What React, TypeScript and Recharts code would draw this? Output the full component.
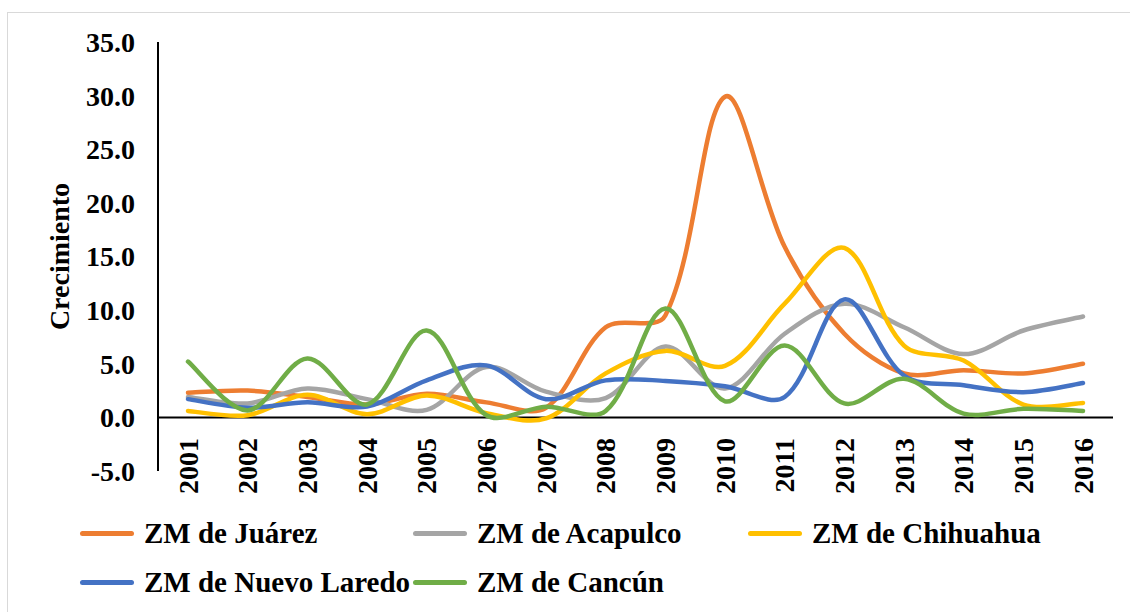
import { LineChart, Line, XAxis, YAxis, ReferenceLine, Legend } from 'recharts';

const years = ['2001', '2002', '2003', '2004', '2005', '2006', '2007', '2008',
  '2009', '2010', '2011', '2012', '2013', '2014', '2015', '2016'];

const juarez = [2.3, 2.5, 1.9, 1.2, 2.2, 1.4, 0.9, 8.4, 9.5, 29.9, 15.9, 7.8, 4.1, 4.4, 4.1, 5.0];
const acapulco = [1.9, 1.3, 2.7, 1.7, 0.7, 4.7, 2.4, 1.8, 6.6, 2.7, 7.8, 10.6, 8.4, 5.9, 8.1, 9.4];
const chihuahua = [0.6, 0.2, 2.1, 0.3, 2.05, 0.4, -0.1, 4.1, 6.2, 4.8, 10.6, 15.8, 6.7, 5.3, 1.2, 1.35];
const nuevoLaredo = [1.7, 0.9, 1.4, 1.0, 3.45, 4.85, 1.7, 3.45, 3.4, 2.9, 1.9, 11.0, 3.9, 3.0, 2.35, 3.2];
const cancun = [5.2, 0.65, 5.5, 1.2, 8.1, 0.2, 1.0, 0.6, 10.15, 1.5, 6.7, 1.3, 3.6, 0.35, 0.8, 0.6];

const yTicks = [-5, 0, 5, 10, 15, 20, 25, 30, 35];

const series = [
  { key: 'juarez', name: 'ZM de Juárez', color: '#ED7D31' },
  { key: 'acapulco', name: 'ZM de Acapulco', color: '#A5A5A5' },
  { key: 'chihuahua', name: 'ZM de Chihuahua', color: '#FFC000' },
  { key: 'nuevoLaredo', name: 'ZM de Nuevo Laredo', color: '#4472C4' },
  { key: 'cancun', name: 'ZM de Cancún', color: '#70AD47' },
];

const data = years.map((year, i) => ({
  year,
  juarez: juarez[i],
  acapulco: acapulco[i],
  chihuahua: chihuahua[i],
  nuevoLaredo: nuevoLaredo[i],
  cancun: cancun[i],
}));

const FONT = "'Liberation Serif', 'DejaVu Serif', serif";

// smoothing similar to the spreadsheet "smoothed line" (handles scaled by segment length)
const smoothCurve = (context: any) => {
  let pts: number[][] = [];
  return {
    areaStart() {},
    areaEnd() {},
    lineStart() { pts = []; },
    point(x: number, y: number) { pts.push([+x, +y]); },
    lineEnd() {
      if (!pts.length) return;
      context.moveTo(pts[0][0], pts[0][1]);
      const dist = (a: number[], b: number[]) => Math.hypot(b[0] - a[0], b[1] - a[1]);
      for (let i = 0; i < pts.length - 1; i++) {
        const p0 = pts[i - 1] || pts[i];
        const p1 = pts[i];
        const p2 = pts[i + 1];
        const p3 = pts[i + 2] || p2;
        const d01 = dist(p0, p1), d12 = dist(p1, p2), d23 = dist(p2, p3);
        const f1 = d01 + d12 > 0 ? (d12 / (d01 + d12)) / 3 : 0;
        const f2 = d12 + d23 > 0 ? (d12 / (d12 + d23)) / 3 : 0;
        const a1 = i === 0 ? 1 / 6 : f1;
        const a2 = i + 2 >= pts.length ? 1 / 6 : f2;
        context.bezierCurveTo(
          p1[0] + (p2[0] - p0[0]) * a1, p1[1] + (p2[1] - p0[1]) * a1,
          p2[0] - (p3[0] - p1[0]) * a2, p2[1] - (p3[1] - p1[1]) * a2,
          p2[0], p2[1]
        );
      }
    },
  };
};

const YearTick = ({ x, y, payload }: any) => (
  <text
    x={0}
    y={0}
    transform={`translate(${x},${y - 33}) rotate(-90)`}
    textAnchor="end"
    dy="0.34em"
    fontFamily={FONT}
    fontWeight="bold"
    fontSize={28}
    fill="#000"
  >
    {payload.value}
  </text>
);

const YTitle = ({ viewBox }: any) => {
  const x = viewBox ? viewBox.x : 58;
  const cy = viewBox ? viewBox.y + viewBox.height / 2 : 257;
  return (
    <text
      x={0}
      y={0}
      transform={`translate(${x + 1},${cy}) rotate(-90)`}
      textAnchor="middle"
      dy="0.34em"
      fontFamily={FONT}
      fontWeight="bold"
      fontSize={28}
      fill="#000"
    >
      Crecimiento
    </text>
  );
};

const legendCols = [80, 413, 748];
const legendRows = [21, 70];

const LegendContent = () => (
  <div style={{ position: 'relative', width: 1130, height: 95 }}>
    {series.map((s, i) => (
      <div
        key={s.key}
        style={{
          position: 'absolute',
          left: legendCols[i % 3],
          top: legendRows[Math.floor(i / 3)] - 20,
          height: 40,
          display: 'flex',
          alignItems: 'center',
          whiteSpace: 'nowrap',
        }}
      >
        <div style={{ width: 54, height: 5, borderRadius: 3, background: s.color }} />
        <span
          style={{
            marginLeft: 10,
            fontFamily: FONT,
            fontWeight: 'bold',
            fontSize: 29,
            color: '#000',
            lineHeight: '40px',
          }}
        >
          {s.name}
        </span>
      </div>
    ))}
  </div>
);

export default function App() {
  return (
    <div style={{ position: 'absolute', left: 0, top: 0, width: 1130, height: 612, background: '#fff' }}>
      <div
        style={{
          position: 'absolute',
          left: 7,
          top: 12,
          right: 0,
          bottom: 0,
          borderTop: '1.5px solid #d9d9d9',
          borderLeft: '1.5px solid #d9d9d9',
        }}
      />
      <LineChart
        width={1130}
        height={612}
        data={data}
        margin={{ top: 42, right: 17, left: 58, bottom: 111 }}
      >
        <XAxis
          dataKey="year"
          height={30}
          padding={{ left: 30, right: 30 }}
          axisLine={false}
          tickLine={false}
          tickSize={0}
          tickMargin={0}
          interval={0}
          tick={<YearTick />}
        />
        <YAxis
          width={100}
          domain={[-5, 35]}
          ticks={yTicks}
          allowDataOverflow
          tickFormatter={(v: number) => v.toFixed(1)}
          axisLine={{ stroke: '#000', strokeWidth: 2 }}
          tickLine={false}
          tickSize={0}
          tickMargin={23}
          tick={{ fontFamily: FONT, fontWeight: 'bold', fontSize: 28, fill: '#000' }}
          label={<YTitle />}
        />
        <ReferenceLine y={0} stroke="#000" strokeWidth={2} />
        {series.map((s) => (
          <Line
            key={s.key}
            dataKey={s.key}
            name={s.name}
            type={smoothCurve as any}
            stroke={s.color}
            strokeWidth={4.5}
            strokeLinecap="round"
            dot={false}
            activeDot={false}
            isAnimationActive={false}
          />
        ))}
        <Legend
          layout="horizontal"
          verticalAlign="middle"
          align="center"
          content={<LegendContent />}
          wrapperStyle={{ top: 512, left: 0, width: 1130, height: 95 }}
        />
      </LineChart>
    </div>
  );
}
